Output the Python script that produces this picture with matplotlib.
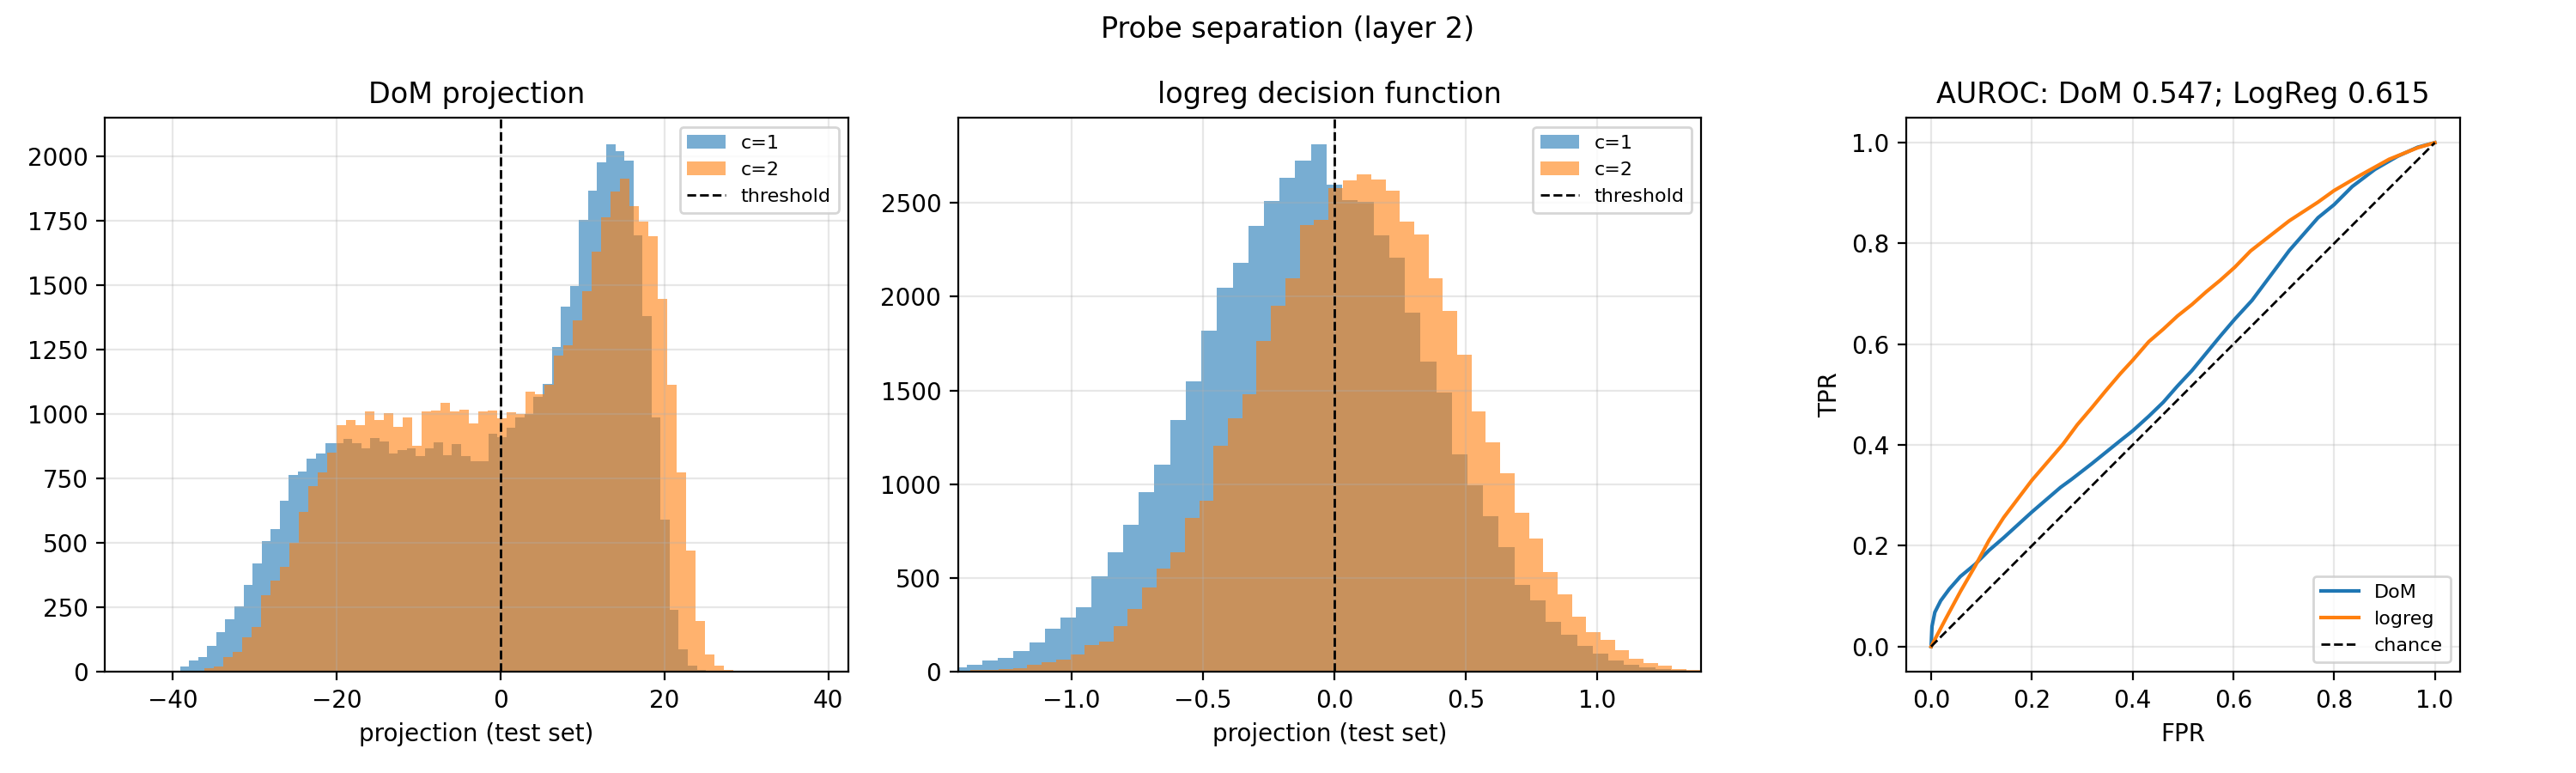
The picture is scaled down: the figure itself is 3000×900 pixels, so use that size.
import numpy as np
import matplotlib
matplotlib.use("Agg")
import matplotlib.pyplot as plt

# DoM projection histogram (counts per bin)
dom_c1_range = (-41.34, 38.33)
dom_c1 = [3, 3, 19, 42, 56, 99, 152, 202, 252, 336, 419, 508, 552, 662, 762, 776,
          826, 847, 887, 887, 902, 886, 866, 906, 892, 846, 859, 866, 836, 866,
          889, 839, 882, 836, 817, 817, 922, 910, 948, 987, 1000, 1066, 1118, 1259,
          1416, 1496, 1752, 1866, 1978, 2048, 2020, 1982, 1693, 1380, 987, 591, 241,
          88, 25, 7, 3, 1, 1, 0, 0, 0, 0, 0, 0, 0, 0, 1]
dom_c2_range = (-44.2, 36.44)
dom_c2 = [0, 1, 0, 1, 1, 3, 5, 13, 20, 56, 76, 133, 172, 297, 352, 406, 500, 619,
          720, 774, 849, 958, 976, 958, 1009, 978, 1002, 949, 986, 876, 1009, 1012,
          1042, 1009, 1016, 962, 1009, 1012, 983, 1008, 1000, 1088, 1078, 1112, 1227,
          1267, 1363, 1478, 1630, 1764, 1862, 1914, 1808, 1746, 1690, 1446, 1114, 774,
          470, 197, 66, 22, 7, 2, 1, 0, 0, 0, 0, 1]

# logreg decision function histogram
lr_c1_range = (-1.4586, 1.3398)
lr_c1 = [25, 37, 62, 75, 112, 158, 231, 291, 344, 510, 637, 783, 958, 1105, 1341,
         1547, 1817, 2046, 2182, 2379, 2508, 2633, 2723, 2814, 2598, 2515, 2506,
         2325, 2206, 1915, 1655, 1490, 1160, 995, 828, 664, 462, 381, 268, 196, 139,
         96, 58, 38, 25, 15, 8]
lr_c2_range = (-1.44, 1.4485)
lr_c2 = [2, 8, 10, 13, 21, 37, 50, 64, 94, 144, 162, 244, 335, 450, 550, 637, 820,
         912, 1205, 1351, 1478, 1765, 1950, 2098, 2383, 2411, 2579, 2621, 2652, 2625,
         2565, 2398, 2333, 2098, 1925, 1690, 1386, 1222, 1059, 847, 708, 531, 412,
         293, 210, 169, 115, 71, 46, 33, 15, 10, 3]

# ROC curves
dom_fpr = [0, 0.0017, 0.0074, 0.019, 0.036, 0.058, 0.087, 0.115, 0.144, 0.2, 0.257,
           0.279, 0.319, 0.376, 0.4, 0.432, 0.461, 0.489, 0.518, 0.546, 0.574, 0.603,
           0.637, 0.711, 0.768, 0.8, 0.836, 0.881, 0.926, 0.966, 1]
dom_tpr = [0, 0.04, 0.068, 0.091, 0.114, 0.139, 0.163, 0.191, 0.216, 0.267, 0.316,
           0.332, 0.363, 0.409, 0.428, 0.457, 0.485, 0.517, 0.548, 0.582, 0.616, 0.65,
           0.687, 0.786, 0.851, 0.877, 0.913, 0.947, 0.973, 0.991, 1]
lr_fpr = [0, 0.03, 0.058, 0.087, 0.115, 0.144, 0.2, 0.262, 0.29, 0.319, 0.347, 0.376,
          0.4, 0.432, 0.461, 0.489, 0.518, 0.546, 0.574, 0.603, 0.634, 0.711, 0.768,
          0.8, 0.853, 0.909, 0.966, 1]
lr_tpr = [0, 0.057, 0.109, 0.159, 0.211, 0.256, 0.33, 0.402, 0.44, 0.474, 0.508, 0.542,
          0.568, 0.605, 0.63, 0.656, 0.679, 0.704, 0.727, 0.753, 0.785, 0.845, 0.882,
          0.905, 0.936, 0.967, 0.99, 1]
auc_dom = 0.547
auc_lr = 0.615


def hist_from_counts(ax, counts, rng, label):
    edges = np.linspace(rng[0], rng[1], len(counts) + 1)
    ax.hist(edges[:-1], bins=edges, weights=counts, alpha=0.6, label=label)


fig, axes = plt.subplots(1, 3, figsize=(15, 4.5), dpi=200)
fig.subplots_adjust(left=0.0407, right=0.9917, bottom=0.131, top=0.848, wspace=0.148)

ax = axes[0]
hist_from_counts(ax, dom_c1, dom_c1_range, "c=1")
hist_from_counts(ax, dom_c2, dom_c2_range, "c=2")
ax.axvline(0, color="k", ls="--", lw=1, label="threshold")
ax.set_xlim(-48.3, 42.4)
ax.set_title("DoM projection")
ax.set_xlabel("projection (test set)")
ax.legend(fontsize=8)
ax.grid(alpha=0.3)

ax = axes[1]
hist_from_counts(ax, lr_c1, lr_c1_range, "c=1")
hist_from_counts(ax, lr_c2, lr_c2_range, "c=2")
ax.axvline(0, color="k", ls="--", lw=1, label="threshold")
ax.set_xlim(-1.431, 1.396)
ax.set_title("logreg decision function")
ax.set_xlabel("projection (test set)")
ax.legend(fontsize=8)
ax.grid(alpha=0.3)

ax = axes[2]
ax.plot(dom_fpr, dom_tpr, label="DoM")
ax.plot(lr_fpr, lr_tpr, label="logreg")
ax.plot([0, 1], [0, 1], "k--", lw=1, label="chance")
ax.set_aspect("equal")
ax.set_title(f"AUROC: DoM {auc_dom:.3f}; LogReg {auc_lr:.3f}")
ax.set_xlabel("FPR")
ax.set_ylabel("TPR")
ax.legend(fontsize=8, loc="lower right")
ax.grid(alpha=0.3)

fig.suptitle("Probe separation (layer 2)")
fig.savefig("out.png")
